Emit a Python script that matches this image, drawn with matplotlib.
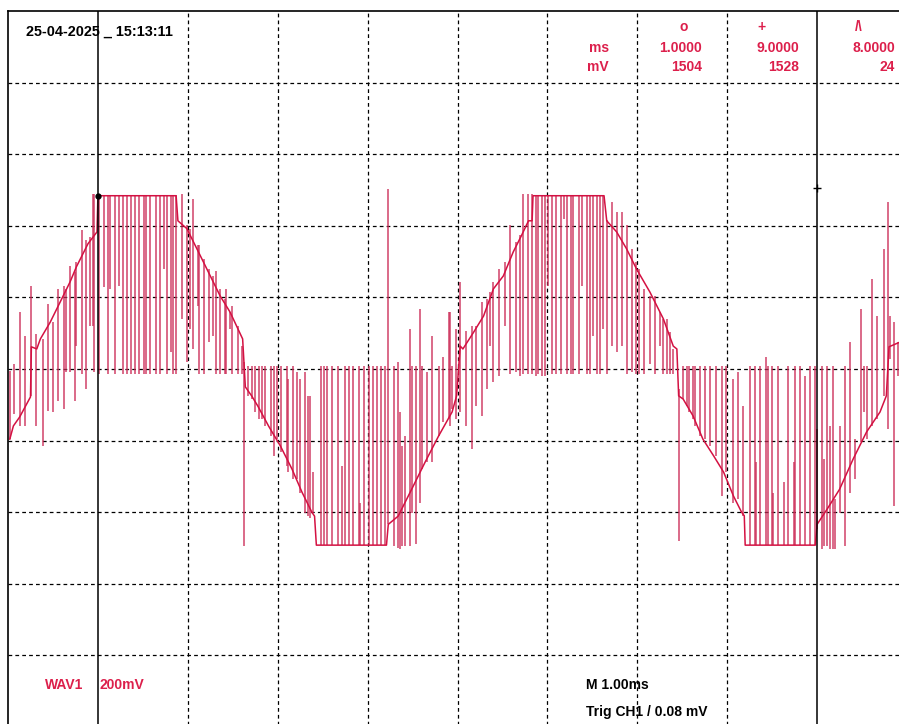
import matplotlib
matplotlib.use("Agg")
import matplotlib.pyplot as plt

# scope screenshot: WAV1, 200 mV/div, 1 ms/div
plt.rcParams['font.family'] = ['Liberation Sans', 'DejaVu Sans']

RED = '#dc1f4b'
TRACE = '#d41142'
SPIKE = '#cc2d58'

# trace envelope (ms, mV)
env_t = [0.02, 0.06, 0.13, 0.25, 0.26, 0.32, 0.36, 0.47, 0.58, 0.69, 0.76, 0.89, 0.99, 1.00,
         1.87, 1.89, 1.99, 2.14, 2.25, 2.36, 2.47, 2.61, 2.64, 2.71, 2.78, 2.90, 3.03, 3.16,
         3.27, 3.38, 3.41, 3.43, 4.21, 4.23, 4.34, 4.49, 4.64, 4.79, 4.94, 4.99, 5.03, 5.06,
         5.18, 5.29, 5.40, 5.51, 5.62, 5.71, 5.79, 5.83, 5.84, 6.63, 6.66, 6.77, 6.88, 6.99,
         7.14, 7.29, 7.40, 7.44, 7.46, 7.51, 7.62, 7.73, 7.85, 7.96, 8.07, 8.16, 8.19, 8.20,
         8.98, 9.00, 9.11, 9.25, 9.40, 9.55, 9.70, 9.77, 9.80, 9.92]
env_v = [-196, -159, -134, -78, 62, 56, 84, 131, 187, 243, 285, 350, 383, 484,
         484, 414, 392, 316, 260, 204, 159, 84, -50, -75, -104, -160, -215, -280,
         -344, -400, -411, -492, -492, -434, -411, -336, -260, -187, -120, -75, 64, 56,
         103, 148, 224, 260, 327, 372, 414, 414, 484, 484, 414, 383, 336, 280,
         215, 140, 64, 56, -75, -84, -131, -196, -243, -288, -355, -400, -410, -492,
         -492, -434, -392, -336, -252, -176, -120, -75, 62, 75]

# switching spikes: (ms, low mV, high mV)
spikes_1 = [(0.02, -196, -5), (0.07, -126, 14), (0.13, -158, 158), (0.19, -158, 93),
            (0.26, -75, 233), (0.31, -158, 98), (0.39, -214, 84), (0.45, -117, 182),
            (0.50, -121, 130), (0.56, -88, 224), (0.62, -112, 233), (0.65, -9, 224),
            (0.69, -9, 289), (0.75, -88, 270), (0.76, 65, 298), (0.82, -14, 387),
            (0.87, -56, 359), (0.91, 121, 368), (0.94, 121, 489), (0.96, -9, 489),
            (1.01, -14, 485), (1.07, 228, 485), (1.11, -14, 485), (1.14, 224, 485),
            (1.19, -14, 485), (1.24, 233, 485), (1.28, -14, 485), (1.32, -14, 485),
            (1.37, -14, 485), (1.41, -14, 485), (1.46, -14, 485), (1.51, -14, 485),
            (1.54, -14, 485), (1.58, -14, 485), (1.65, -14, 485), (1.69, -14, 485),
            (1.74, 280, 485), (1.77, -14, 485), (1.81, 47, 485), (1.83, -14, 485),
            (1.87, -14, 485), (1.93, 140, 489), (1.99, 19, 401), (2.02, 112, 392),
            (2.06, 56, 476), (2.11, 177, 345), (2.13, -14, 345), (2.18, -14, 308),
            (2.24, 75, 280), (2.28, 93, 261), (2.31, -14, 275), (2.36, -14, 224),
            (2.41, -14, 196), (2.47, 112, 159)]

spikes_2 = [(2.43, -14, 224), (2.49, -14, 177), (2.56, -14, 121), (2.60, -14, 65),
            (2.62, -494, 19), (2.67, -75, 9), (2.71, -84, 9), (2.75, -121, 9),
            (2.79, -140, 9), (2.82, -140, 9), (2.86, -158, 9), (2.92, -186, 9),
            (2.96, -242, 9), (2.99, -196, 9), (3.04, -233, 9), (3.10, -270, 9),
            (3.12, -289, -28), (3.17, -308, 9), (3.21, -308, -9), (3.25, -345, -28),
            (3.30, -401, -9), (3.34, -410, -75), (3.36, -415, -75), (3.39, -401, -289),
            (3.48, -491, 9), (3.51, -491, 9), (3.55, -491, 9), (3.60, -491, 9),
            (3.67, -491, 9), (3.72, -491, -270), (3.75, -491, 9), (3.79, -491, 9),
            (3.84, -491, 9), (3.90, -491, 9), (3.92, -491, -373), (3.96, -491, 9),
            (4.02, -491, 9), (4.06, -491, 9), (4.10, -491, 9), (4.15, -491, 9),
            (4.19, -491, 9), (4.23, -434, 503), (4.29, -494, 9), (4.34, -499, 19),
            (4.36, -504, -121), (4.38, -494, -214), (4.42, -494, -186), (4.47, -494, 112),
            (4.49, -401, 9), (4.54, -490, 9), (4.58, -373, 168), (4.61, -280, 9),
            (4.66, -261, -9), (4.72, -261, 93), (4.79, -187, 9), (4.84, -149, 33),
            (4.90, -140, 159), (4.94, -112, 9)]

spikes_3 = [(4.92, -159, 159), (4.98, -140, 112), (5.03, -121, 242), (5.10, -159, 107),
            (5.16, -224, 121), (5.21, -103, 121), (5.27, -130, 186), (5.33, -56, 196),
            (5.36, 65, 214), (5.40, -37, 242), (5.46, -19, 280), (5.53, 121, 298),
            (5.58, -14, 401), (5.65, -9, 354), (5.70, -19, 373), (5.73, -14, 489),
            (5.78, -14, 489), (5.83, -14, 489), (5.87, -19, 485), (5.90, -14, 485),
            (5.94, -19, 485), (5.97, -19, 485), (6.01, 233, 485), (6.05, -14, 485),
            (6.10, -14, 485), (6.15, -14, 485), (6.18, 420, 485), (6.22, -14, 485),
            (6.26, -14, 485), (6.29, -14, 485), (6.35, -14, 485), (6.39, 233, 485),
            (6.44, -14, 485), (6.47, -14, 485), (6.51, 93, 485), (6.55, -14, 485),
            (6.58, -14, 485), (6.62, 112, 485), (6.66, -14, 415), (6.72, 65, 466),
            (6.77, 47, 438), (6.83, 65, 438), (6.88, -14, 401), (6.94, -9, 336),
            (6.98, -14, 298), (7.02, -14, 280), (7.07, -14, 224), (7.14, 14, 205),
            (7.20, -14, 205), (7.25, 65, 159), (7.29, -14, 140), (7.33, -14, 140),
            (7.36, -14, 102), (7.40, -14, 56), (7.46, -480, -56)]

spikes_4 = [(7.51, -84, 9), (7.55, -103, 9), (7.58, -121, 9), (7.62, -140, 9),
            (7.64, -159, 9), (7.70, -187, 9), (7.75, -196, 9), (7.81, -214, 9),
            (7.87, -242, 9), (7.94, -354, 9), (7.99, -289, 9), (8.06, -373, -28),
            (8.12, -364, -9), (8.18, -410, -102), (8.25, -491, 9), (8.31, -491, 9),
            (8.32, -491, -261), (8.37, -491, 9), (8.43, -491, 33), (8.45, -491, 9),
            (8.50, -491, 9), (8.51, -491, -345), (8.56, -491, 9), (8.63, -491, -317),
            (8.68, -491, 9), (8.74, -491, -261), (8.75, -491, 9), (8.81, -491, 9),
            (8.87, -491, -19), (8.92, -491, 9), (8.98, -491, 9), (9.00, -448, -168),
            (9.05, -504, 9), (9.08, -494, -252), (9.11, -494, 9), (9.14, -504, -159),
            (9.18, -504, 9), (9.20, -504, -364), (9.26, -401, -159), (9.31, -494, 9),
            (9.37, -345, 75), (9.42, -308, -196), (9.49, -205, 168), (9.52, -121, 9),
            (9.55, -196, 9), (9.61, -159, 252), (9.67, -140, 149), (9.74, -75, 335),
            (9.79, -168, 466), (9.81, 28, 149), (9.86, -382, 130), (9.90, -19, 75)]

cursor_t = [1.0, 9.0]
cursor_v = [484, 506]

fig = plt.figure(figsize=(8.99, 7.24), dpi=100)
ax = fig.add_axes([8 / 899, 1 - 727 / 724, 899 / 899, 716 / 724])
ax.set_xlim(0, 10)
ax.set_ylim(-1000, 1000)
ax.set_xticks([])
ax.set_yticks([])
for s in ['top', 'left']:
    ax.spines[s].set_linewidth(1.2)
for s in ['right', 'bottom']:
    ax.spines[s].set_visible(False)

# dashed graticule
for x in range(2, 10):
    if x in cursor_t:
        continue
    ax.axvline(x, color='black', lw=0.9, ls=(0, (3, 2.5)), zorder=1)
for y in range(-800, 1000, 200):
    ax.axhline(y, color='black', lw=0.9, ls=(0, (3, 2.5)), zorder=1)

# trace
for seg in [spikes_1, spikes_2, spikes_3, spikes_4]:
    ts = [s[0] for s in seg]
    lo = [s[1] for s in seg]
    hi = [s[2] for s in seg]
    ax.vlines(ts, lo, hi, color=SPIKE, lw=1.1, alpha=0.9, zorder=2)
ax.plot(env_t, env_v, color=TRACE, lw=1.1, zorder=3)

# cursors
for c in cursor_t:
    ax.axvline(c, color='black', lw=1.1, zorder=4)
ax.plot(cursor_t[0], cursor_v[0], 'o', color='black', ms=3.5, zorder=5)
ax.plot(cursor_t[1], cursor_v[1], '+', color='black', ms=6, mew=1, zorder=5)


def ftext(x, y, s, color='black', ha='left', size=10):
    fig.text(x / 899, 1 - y / 724, s, color=color, ha=ha, va='center',
             fontsize=size, fontweight='bold')


ftext(26, 32, '25-04-2025 _ 15:13:11', size=10.4)

ftext(684, 27, 'o', RED, 'center')
ftext(761, 27, '+', RED, 'center')
ftext(859, 27, '/\\', RED, 'center')
ftext(609, 48, 'ms', RED, 'right')
ftext(609, 67, 'mV', RED, 'right')
ftext(702, 48, '1.0000', RED, 'right')
ftext(702, 67, '1504', RED, 'right')
ftext(799, 48, '9.0000', RED, 'right')
ftext(799, 67, '1528', RED, 'right')
ftext(895, 48, '8.0000', RED, 'right')
ftext(895, 67, '24', RED, 'right')

ftext(45, 685, 'WAV1', RED)
ftext(100, 685, '200mV', RED)
ftext(586, 685, 'M 1.00ms')
ftext(586, 712, 'Trig CH1 / 0.08 mV')

fig.savefig('out.png', dpi=100)
